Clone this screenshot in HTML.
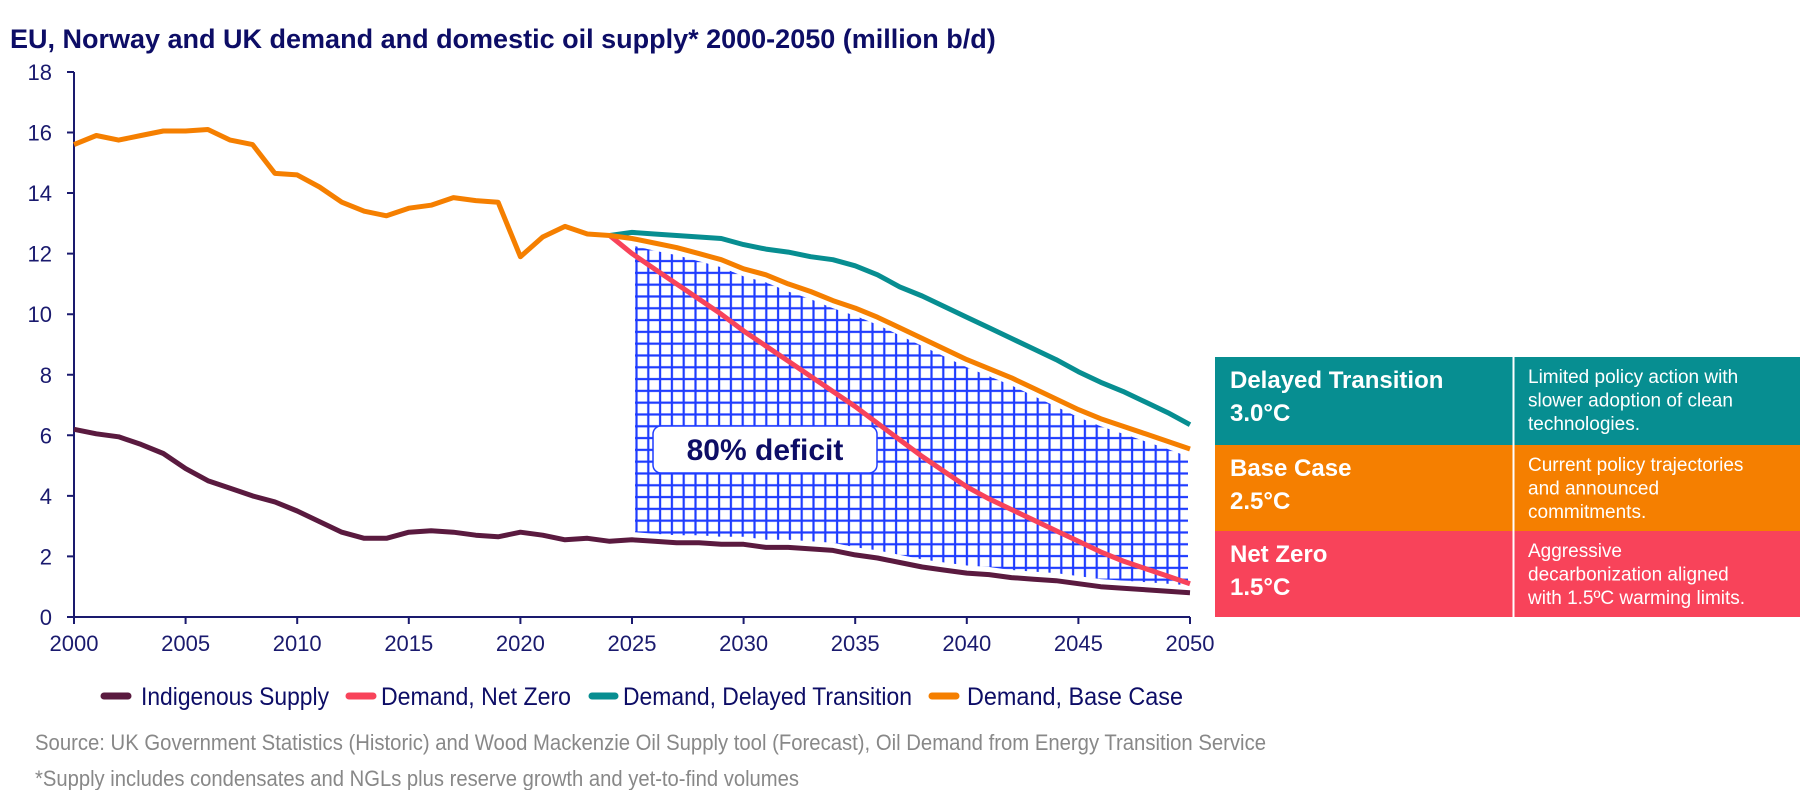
<!DOCTYPE html>
<html><head><meta charset="utf-8"><style>
body{margin:0;background:#fff;width:1800px;height:790px;overflow:hidden}
</style></head><body>
<svg width="1800" height="790" xmlns="http://www.w3.org/2000/svg" font-family="Liberation Sans, Arial, sans-serif">
<defs>
<pattern id="hp" patternUnits="userSpaceOnUse" width="11.8" height="11.8" x="635" y="0">
<path d="M1.5 0V11.8M0 1.5H11.8" stroke="#1f3cff" stroke-width="2.2" fill="none"/>
</pattern>
</defs>
<text x="10" y="48" font-size="27" font-weight="bold" fill="#0d0d66">EU, Norway and UK demand and domestic oil supply* 2000-2050 (million b/d)</text>

<polygon fill="url(#hp)" points="635,246.1 654.3,250.6 676.6,255.2 699,261.2 721.3,267.3 743.6,276.4 765.9,282.4 788.2,291.5 810.6,299.1 832.9,308.2 855.2,315.7 877.5,324.8 899.8,335.4 922.2,346 944.5,356.6 966.8,367.2 989.1,376.3 1011.4,385.4 1033.8,396 1056.1,406.6 1078.4,417.2 1100.7,426.3 1123,433.8 1145.4,441.4 1167.7,449 1188,456.6 1188,585.2 1167.7,583.7 1145.4,582.1 1123,580.6 1100.7,579.1 1078.4,576.1 1056.1,573.1 1033.8,571.6 1011.4,570 989.1,567 966.8,565.5 944.5,562.5 922.2,559.4 899.8,554.9 877.5,550.4 855.2,547.3 832.9,542.8 810.6,541.3 788.2,539.8 765.9,539.8 743.6,536.7 721.3,536.7 699,535.2 676.6,535.2 654.3,533.7 635,532.2"/>

<g stroke="#1a1a6e" stroke-width="2" fill="none">
<path d="M74 72V617H1190"/>
<path d="M67 617H74M67 556.4H74M67 495.9H74M67 435.3H74M67 374.8H74M67 314.2H74M67 253.6H74M67 193H74M67 132.5H74M67 72H74"/>
<path d="M74 617V624M185.6 617V624M297.2 617V624M408.8 617V624M520.4 617V624M632 617V624M743.6 617V624M855.2 617V624M966.8 617V624M1078.4 617V624M1190 617V624"/>
</g>
<g font-size="22" fill="#1a1a6e" text-anchor="end">
<text x="52" y="625">0</text><text x="52" y="564.4">2</text><text x="52" y="503.9">4</text><text x="52" y="443.3">6</text><text x="52" y="382.8">8</text><text x="52" y="322.2">10</text><text x="52" y="261.6">12</text><text x="52" y="201">14</text><text x="52" y="140.5">16</text><text x="52" y="80">18</text>
</g>
<g font-size="22" fill="#1a1a6e" text-anchor="middle">
<text x="74" y="651">2000</text><text x="185.6" y="651">2005</text><text x="297.2" y="651">2010</text><text x="408.8" y="651">2015</text><text x="520.4" y="651">2020</text><text x="632" y="651">2025</text><text x="743.6" y="651">2030</text><text x="855.2" y="651">2035</text><text x="966.8" y="651">2040</text><text x="1078.4" y="651">2045</text><text x="1190" y="651">2050</text>
</g>

<g fill="none" stroke-width="5" stroke-linejoin="round">
<polyline stroke="#5a1a3f" points="74,429.3 96.3,433.8 118.6,436.8 141,444.4 163.3,453.5 185.6,468.6 207.9,480.7 230.2,488.3 252.6,495.9 274.9,501.9 297.2,511 319.5,521.6 341.8,532.2 364.2,538.3 386.5,538.3 408.8,532.2 431.1,530.7 453.4,532.2 475.8,535.2 498.1,536.8 520.4,532.2 542.7,535.2 565,539.8 587.4,538.3 609.7,541.3 632,539.8 654.3,541.3 676.6,542.8 699,542.8 721.3,544.3 743.6,544.3 765.9,547.4 788.2,547.4 810.6,548.9 832.9,550.4 855.2,554.9 877.5,558 899.8,562.5 922.2,567 944.5,570.1 966.8,573.1 989.1,574.6 1011.4,577.6 1033.8,579.2 1056.1,580.7 1078.4,583.7 1100.7,586.7 1123,588.2 1145.4,589.7 1167.7,591.3 1190,592.8"/>
<polyline stroke="#078e91" points="609.7,235.5 632,232.4 654.3,234 676.6,235.5 699,237 721.3,238.5 743.6,244.6 765.9,249.1 788.2,252.1 810.6,256.7 832.9,259.7 855.2,265.8 877.5,274.8 899.8,286.9 922.2,296 944.5,306.6 966.8,317.2 989.1,327.8 1011.4,338.4 1033.8,349 1056.1,359.6 1078.4,371.7 1100.7,382.3 1123,391.4 1145.4,402 1167.7,412.6 1190,424.7"/>
<polyline stroke="#f8435a" points="609.7,235.5 632,253.6 654.3,268.8 676.6,283.9 699,299.1 721.3,314.2 743.6,330.9 765.9,346 788.2,361.1 810.6,376.3 832.9,391.4 855.2,406.5 877.5,423.2 899.8,439.9 922.2,456.5 944.5,471.7 966.8,486.8 989.1,498.9 1011.4,509.5 1033.8,520.1 1056.1,530.7 1078.4,541.3 1100.7,551.9 1123,561 1145.4,568.6 1167.7,576.1 1190,583.7"/>
<polyline stroke="#f57f00" points="74,144.6 96.3,135.5 118.6,140.1 141,135.5 163.3,131 185.6,131 207.9,129.5 230.2,140.1 252.6,144.6 274.9,173.4 297.2,174.9 319.5,187 341.8,202.2 364.2,211.2 386.5,215.8 408.8,208.2 431.1,205.2 453.4,197.6 475.8,200.6 498.1,202.2 520.4,256.7 542.7,237 565,226.4 587.4,234 609.7,235.5 632,238.5 654.3,243 676.6,247.6 699,253.6 721.3,259.7 743.6,268.8 765.9,274.8 788.2,283.9 810.6,291.5 832.9,300.6 855.2,308.1 877.5,317.2 899.8,327.8 922.2,338.4 944.5,349 966.8,359.6 989.1,368.7 1011.4,377.8 1033.8,388.4 1056.1,399 1078.4,409.6 1100.7,418.7 1123,426.2 1145.4,433.8 1167.7,441.4 1190,449"/>
</g>

<rect x="653" y="426" width="224" height="47" rx="8" fill="#fff" stroke="#1f3cff" stroke-width="1.5"/>
<text x="765" y="460" font-size="30" font-weight="bold" fill="#0d0d66" text-anchor="middle">80% deficit</text>

<rect x="1215" y="357" width="585" height="88" fill="#078e91"/>
<rect x="1215" y="445" width="585" height="86" fill="#f57f00"/>
<rect x="1215" y="531" width="585" height="86" fill="#f8435a"/>
<path d="M1513.5 357V617" stroke="#fff" stroke-width="2"/>
<g font-size="24" font-weight="bold" fill="#fff">
<text x="1230" y="388">Delayed Transition</text><text x="1230" y="421">3.0°C</text>
<text x="1230" y="476">Base Case</text><text x="1230" y="509">2.5°C</text>
<text x="1230" y="562">Net Zero</text><text x="1230" y="595">1.5°C</text>
</g>
<g font-size="19" fill="#fff">
<text x="1528" y="383">Limited policy action with</text><text x="1528" y="406.5">slower adoption of clean</text><text x="1528" y="430">technologies.</text>
<text x="1528" y="471">Current policy trajectories</text><text x="1528" y="494.5">and announced</text><text x="1528" y="518">commitments.</text>
<text x="1528" y="557">Aggressive</text><text x="1528" y="580.5">decarbonization aligned</text><text x="1528" y="604">with 1.5ºC warming limits.</text>
</g>

<g stroke-width="7" stroke-linecap="round">
<path d="M104 696H128" stroke="#5a1a3f"/>
<path d="M349 696H373" stroke="#f8435a"/>
<path d="M592 696H615" stroke="#078e91"/>
<path d="M932 696H956" stroke="#f57f00"/>
</g>
<g font-size="25" fill="#0d0d66">
<text x="141" y="705" textLength="188" lengthAdjust="spacingAndGlyphs">Indigenous Supply</text>
<text x="381" y="705" textLength="190" lengthAdjust="spacingAndGlyphs">Demand, Net Zero</text>
<text x="623" y="705" textLength="289" lengthAdjust="spacingAndGlyphs">Demand, Delayed Transition</text>
<text x="967" y="705" textLength="216" lengthAdjust="spacingAndGlyphs">Demand, Base Case</text>
</g>
<text x="35" y="750" font-size="22" fill="#888" textLength="1231" lengthAdjust="spacingAndGlyphs">Source: UK Government Statistics (Historic) and Wood Mackenzie Oil Supply tool (Forecast), Oil Demand from Energy Transition Service</text>
<text x="35" y="786" font-size="22" fill="#888" textLength="764" lengthAdjust="spacingAndGlyphs">*Supply includes condensates and NGLs plus reserve growth and yet-to-find volumes</text>
</svg>
</body></html>
